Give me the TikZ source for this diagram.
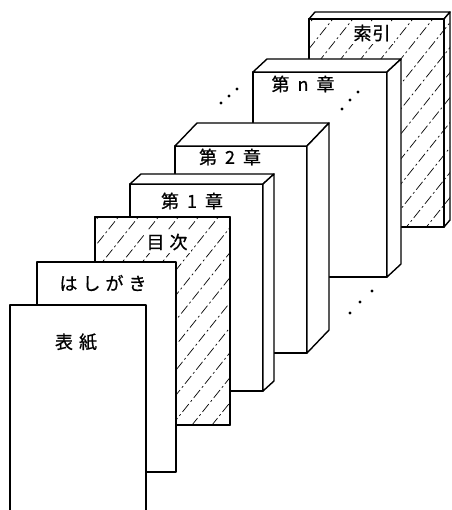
\documentclass[tikz,border=0pt]{standalone}
\usepackage{fontspec}
\newfontfamily\jp[FakeBold=0.8]{Noto Sans CJK JP}
\usetikzlibrary{calc}
\newcommand\lgap[1]{\kern#1pt}
\begin{document}
\begin{tikzpicture}[x=1pt,y=-1pt,line join=round,
  outl/.style={draw=black,line width=1.4pt,fill=white},
  face/.style={outl,rectangle,inner sep=0pt,outer sep=0pt,anchor=north west},
  lbl/.style={font=\jp\fontsize{18}{18}\selectfont,inner sep=0pt},
  hlbl/.style={lbl,fill=white,inner sep=3pt},
  hatch/.style={line width=0.7pt,dash pattern=on 10pt off 3pt on 2pt off 3pt},
  dotm/.style={circle,fill=black,inner sep=0pt,minimum size=3.2pt}]
\clip (0,0) rectangle (451,510);
\fill[white] (0,0) rectangle (451,510);

% ---- 索引 ----
\node[face,minimum width=135pt,minimum height=208pt] (idx) at (309,19) {};
\draw[outl] (idx.north west) -- ++(6,-7) -- ($(idx.north east)+(6,-7)$) -- (idx.north east) -- cycle;
\draw[outl] (idx.north east) -- ++(6,-7) -- ($(idx.south east)+(6,-7)$) -- (idx.south east) -- cycle;
\begin{scope}
  \clip (idx.north west) -- (idx.north east) -- ($(idx.north east)+(6,-7)$) -- ($(idx.south east)+(6,-7)$) -- (idx.south east) -- (idx.south west) -- cycle;
  \foreach \i in {-120,-100,...,460} \draw[hatch] (\i,260) -- ++(300,-375);
\end{scope}
\draw[line width=1.4pt] (idx.north west) rectangle (idx.south east);
\node[hlbl] (lidx) at (372,33) {索\lgap{1}引};

% ---- 第n章 ----
\node[face,minimum width=134pt,minimum height=205pt] (chn) at (253,72) {};
\draw[outl] (chn.north west) -- ++(14,-13) -- ($(chn.north east)+(14,-13)$) -- (chn.north east) -- cycle;
\draw[outl] (chn.north east) -- ++(14,-13) -- ($(chn.south east)+(14,-13)$) -- (chn.south east) -- cycle;
\node[lbl] (lchn) at (303,84) {第\lgap{8}n\lgap{8}章};

% ---- 第2章 ----
\node[face,minimum width=132pt,minimum height=207pt] (chb) at (175,146) {};
\draw[outl] (chb.north west) -- ++(22,-23) -- ($(chb.north east)+(22,-23)$) -- (chb.north east) -- cycle;
\draw[outl] (chb.north east) -- ++(22,-23) -- ($(chb.south east)+(22,-23)$) -- (chb.south east) -- cycle;
\node[lbl] (lchb) at (230,157) {第\lgap{8}2\lgap{8}章};

% ---- 第1章 ----
\node[face,minimum width=133pt,minimum height=207pt] (cha) at (130,184) {};
\draw[outl] (cha.north west) -- ++(11,-10) -- ($(cha.north east)+(11,-10)$) -- (cha.north east) -- cycle;
\draw[outl] (cha.north east) -- ++(11,-10) -- ($(cha.south east)+(11,-10)$) -- (cha.south east) -- cycle;
\node[lbl] (lcha) at (192,201) {第\lgap{8}1\lgap{8}章};

% ---- 目次 ----
\node[face,minimum width=135pt,minimum height=208pt] (toc) at (95,217) {};
\begin{scope}
  \clip (toc.north west) rectangle (toc.south east);
  \foreach \i in {-300,-280,...,260} \draw[hatch] (\i,440) -- ++(300,-375);
\end{scope}
\draw[line width=1.4pt] (toc.north west) rectangle (toc.south east);
\node[hlbl] (ltoc) at (167,242) {目\lgap{5}次};

% ---- はしがき ----
\node[face,minimum width=139pt,minimum height=210pt] (pre) at (37,262) {};
\node[lbl] (lpre) at (103,283) {は\lgap{5}し\lgap{5}が\lgap{5}き};

% ---- 表紙 ----
\node[face,minimum width=136pt,minimum height=230pt] (cov) at (10,305) {};
\node[lbl] (lcov) at (76,342) {表\lgap{6}紙};

% ---- dots ----
\node[dotm] (a1) at (221,103) {};
\node[dotm] (a2) at (229,96) {};
\node[dotm] (a3) at (237,89) {};
\node[dotm] (b1) at (342,109) {};
\node[dotm] (b2) at (350,100) {};
\node[dotm] (b3) at (358,92) {};
\node[dotm] (c1) at (350,313) {};
\node[dotm] (c2) at (360,302) {};
\node[dotm] (c3) at (372,291) {};
\end{tikzpicture}
\end{document}
